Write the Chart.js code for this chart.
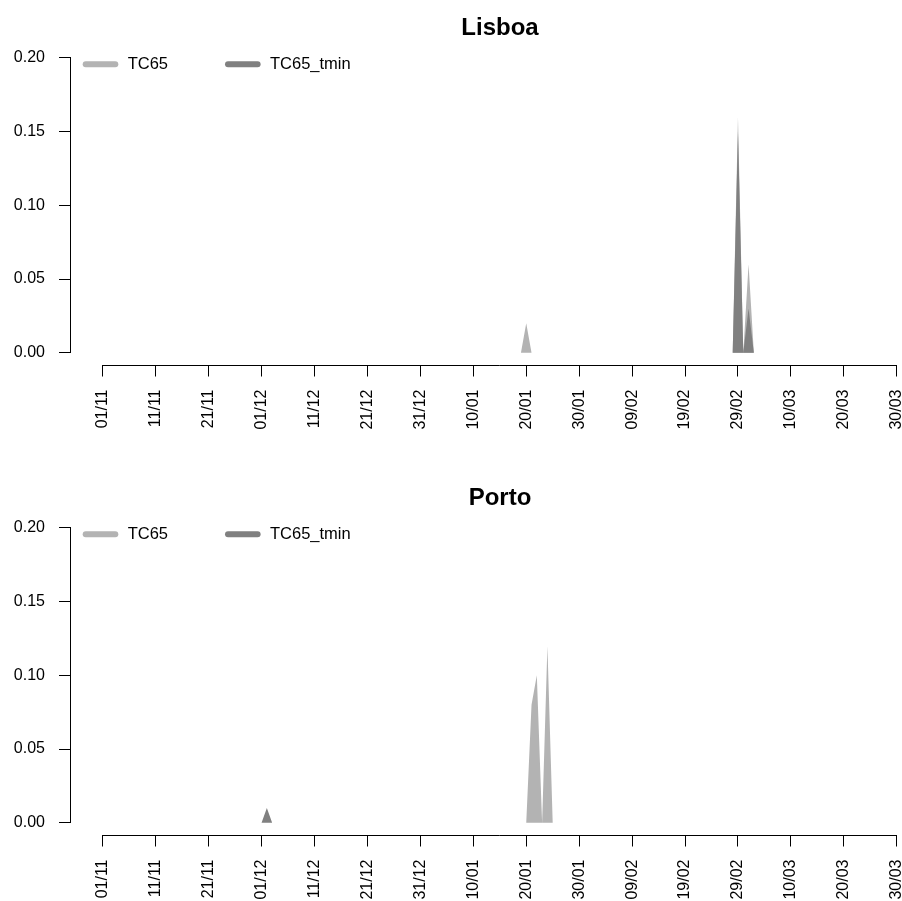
<!DOCTYPE html>
<html>
<head>
<meta charset="utf-8">
<script src="https://cdn.jsdelivr.net/npm/chart.js@4.4.0/dist/chart.umd.min.js"></script>
<style>
  html, body { margin: 0; padding: 0; background: #fff; overflow: hidden; }
  .panel { position: absolute; left: 0; }
  #lisboaBox { top: 0; }
  #portoBox { top: 470px; }
</style>
</head>
<body>
<div class="panel" id="lisboaBox"><canvas id="lisboaChart" width="1000" height="470"></canvas></div>
<div class="panel" id="portoBox"><canvas id="portoChart" width="1000" height="470"></canvas></div>
<script>
// Daily series, 01/11 (day 0) to 30/03 (day 150), ten days per row
const lisboaTC65 = [
  0, 0, 0, 0, 0, 0, 0, 0, 0, 0,
  0, 0, 0, 0, 0, 0, 0, 0, 0, 0,
  0, 0, 0, 0, 0, 0, 0, 0, 0, 0,
  0, 0, 0, 0, 0, 0, 0, 0, 0, 0,
  0, 0, 0, 0, 0, 0, 0, 0, 0, 0,
  0, 0, 0, 0, 0, 0, 0, 0, 0, 0,
  0, 0, 0, 0, 0, 0, 0, 0, 0, 0,
  0, 0, 0, 0, 0, 0, 0, 0, 0, 0,
  0.02, 0, 0, 0, 0, 0, 0, 0, 0, 0,
  0, 0, 0, 0, 0, 0, 0, 0, 0, 0,
  0, 0, 0, 0, 0, 0, 0, 0, 0, 0,
  0, 0, 0, 0, 0, 0, 0, 0, 0, 0,
  0.16, 0, 0.06, 0, 0, 0, 0, 0, 0, 0,
  0, 0, 0, 0, 0, 0, 0, 0, 0, 0,
  0, 0, 0, 0, 0, 0, 0, 0, 0, 0,
  0
];
const lisboaTmin = [
  0, 0, 0, 0, 0, 0, 0, 0, 0, 0,
  0, 0, 0, 0, 0, 0, 0, 0, 0, 0,
  0, 0, 0, 0, 0, 0, 0, 0, 0, 0,
  0, 0, 0, 0, 0, 0, 0, 0, 0, 0,
  0, 0, 0, 0, 0, 0, 0, 0, 0, 0,
  0, 0, 0, 0, 0, 0, 0, 0, 0, 0,
  0, 0, 0, 0, 0, 0, 0, 0, 0, 0,
  0, 0, 0, 0, 0, 0, 0, 0, 0, 0,
  0, 0, 0, 0, 0, 0, 0, 0, 0, 0,
  0, 0, 0, 0, 0, 0, 0, 0, 0, 0,
  0, 0, 0, 0, 0, 0, 0, 0, 0, 0,
  0, 0, 0, 0, 0, 0, 0, 0, 0, 0,
  0.15, 0, 0.03, 0, 0, 0, 0, 0, 0, 0,
  0, 0, 0, 0, 0, 0, 0, 0, 0, 0,
  0, 0, 0, 0, 0, 0, 0, 0, 0, 0,
  0
];
const portoTC65 = [
  0, 0, 0, 0, 0, 0, 0, 0, 0, 0,
  0, 0, 0, 0, 0, 0, 0, 0, 0, 0,
  0, 0, 0, 0, 0, 0, 0, 0, 0, 0,
  0, 0, 0, 0, 0, 0, 0, 0, 0, 0,
  0, 0, 0, 0, 0, 0, 0, 0, 0, 0,
  0, 0, 0, 0, 0, 0, 0, 0, 0, 0,
  0, 0, 0, 0, 0, 0, 0, 0, 0, 0,
  0, 0, 0, 0, 0, 0, 0, 0, 0, 0,
  0, 0.08, 0.10, 0, 0.12, 0, 0, 0, 0, 0,
  0, 0, 0, 0, 0, 0, 0, 0, 0, 0,
  0, 0, 0, 0, 0, 0, 0, 0, 0, 0,
  0, 0, 0, 0, 0, 0, 0, 0, 0, 0,
  0, 0, 0, 0, 0, 0, 0, 0, 0, 0,
  0, 0, 0, 0, 0, 0, 0, 0, 0, 0,
  0, 0, 0, 0, 0, 0, 0, 0, 0, 0,
  0
];
const portoTmin = [
  0, 0, 0, 0, 0, 0, 0, 0, 0, 0,
  0, 0, 0, 0, 0, 0, 0, 0, 0, 0,
  0, 0, 0, 0, 0, 0, 0, 0, 0, 0,
  0, 0.01, 0, 0, 0, 0, 0, 0, 0, 0,
  0, 0, 0, 0, 0, 0, 0, 0, 0, 0,
  0, 0, 0, 0, 0, 0, 0, 0, 0, 0,
  0, 0, 0, 0, 0, 0, 0, 0, 0, 0,
  0, 0, 0, 0, 0, 0, 0, 0, 0, 0,
  0, 0, 0, 0, 0, 0, 0, 0, 0, 0,
  0, 0, 0, 0, 0, 0, 0, 0, 0, 0,
  0, 0, 0, 0, 0, 0, 0, 0, 0, 0,
  0, 0, 0, 0, 0, 0, 0, 0, 0, 0,
  0, 0, 0, 0, 0, 0, 0, 0, 0, 0,
  0, 0, 0, 0, 0, 0, 0, 0, 0, 0,
  0, 0, 0, 0, 0, 0, 0, 0, 0, 0,
  0
];

const tickDays = [0, 10, 20, 30, 40, 50, 60, 70, 80, 90, 100, 110, 120, 130, 140, 150];
const tickLabels = ['01/11', '11/11', '21/11', '01/12', '11/12', '21/12', '31/12', '10/01',
                    '20/01', '30/01', '09/02', '19/02', '29/02', '10/03', '20/03', '30/03'];
const yTicks = [0, 0.05, 0.10, 0.15, 0.20];
const seriesNames = ['TC65', 'TC65_tmin'];

const lightGrey = '#b3b3b3';
const darkGrey = '#808080';
const FONT = '"Liberation Sans", Arial, Helvetica, sans-serif';

// R style axis lines: only from first to last tick
const axisLines = {
  id: 'axisLines',
  afterDraw(chart) {
    const { ctx, chartArea, scales } = chart;
    const x = scales.x, y = scales.y;
    ctx.save();
    ctx.strokeStyle = '#000';
    ctx.lineWidth = 1;
    ctx.beginPath();
    const by = Math.round(chartArea.bottom) + 0.5;
    ctx.moveTo(x.getPixelForValue(tickDays[0]), by);
    ctx.lineTo(x.getPixelForValue(tickDays[tickDays.length - 1]), by);
    const lx = Math.round(chartArea.left) - 0.5;
    ctx.moveTo(lx, y.getPixelForValue(yTicks[0]));
    ctx.lineTo(lx, y.getPixelForValue(yTicks[yTicks.length - 1]));
    ctx.stroke();
    ctx.restore();
  }
};

// horizontal legend in the top left corner, thick line keys
const lineLegend = {
  id: 'lineLegend',
  afterDraw(chart, args, opts) {
    const ctx = chart.ctx;
    ctx.save();
    chart.data.datasets.forEach((ds, i) => {
      const x0 = opts.x[i];
      ctx.strokeStyle = ds.backgroundColor;
      ctx.lineWidth = 6;
      ctx.lineCap = 'round';
      ctx.beginPath();
      ctx.moveTo(x0 + 3, opts.y);
      ctx.lineTo(x0 + opts.lineLength - 3, opts.y);
      ctx.stroke();
      ctx.fillStyle = '#000';
      ctx.font = '16.5px ' + FONT;
      ctx.textBaseline = 'middle';
      ctx.fillText(ds.label, x0 + opts.textOffset, opts.y);
    });
    ctx.restore();
  }
};

function makeChart(canvasId, title, tc65, tmin) {
  const ctx = document.getElementById(canvasId).getContext('2d');
  return new Chart(ctx, {
    type: 'line',
    data: {
      datasets: [
        {
          label: seriesNames[0],
          data: tc65.map((v, i) => ({ x: i, y: v })),
          backgroundColor: lightGrey,
          borderWidth: 0,
          fill: 'origin',
          pointRadius: 0,
          tension: 0,
          order: 2
        },
        {
          label: seriesNames[1],
          data: tmin.map((v, i) => ({ x: i, y: v })),
          backgroundColor: darkGrey,
          borderWidth: 0,
          fill: 'origin',
          pointRadius: 0,
          tension: 0,
          order: 1
        }
      ]
    },
    options: {
      responsive: false,
      animation: false,
      events: [],
      layout: { padding: 0 },
      plugins: {
        legend: { display: false },
        tooltip: { enabled: false },
        title: {
          display: true,
          text: title,
          color: '#000',
          font: { family: FONT, size: 24, weight: 'bold' },
          padding: { top: 14, bottom: 3.4 }
        },
        lineLegend: { x: [82.7, 225], y: 64.3, lineLength: 35.6, textOffset: 45 }
      },
      scales: {
        x: {
          type: 'linear',
          min: -6,
          max: 169.5,
          afterBuildTicks: (s) => { s.ticks = tickDays.map(v => ({ value: v })); },
          afterFit: (s) => { s.height = 105.5; },
          border: { display: false },
          grid: { drawOnChartArea: false, drawTicks: true, tickLength: 12, color: '#000' },
          ticks: {
            autoSkip: false,
            minRotation: 90,
            maxRotation: 90,
            padding: 13,
            color: '#000',
            font: { family: FONT, size: 16 },
            callback: (v) => tickLabels[tickDays.indexOf(v)]
          }
        },
        y: {
          type: 'linear',
          min: -0.008,
          max: 0.208,
          afterBuildTicks: (s) => { s.ticks = yTicks.map(v => ({ value: v })); },
          afterFit: (s) => { s.width = 71; },
          border: { display: false },
          grid: { drawOnChartArea: false, drawTicks: true, tickLength: 12, color: '#000' },
          ticks: {
            padding: 14,
            color: '#000',
            font: { family: FONT, size: 16 },
            callback: (v) => v.toFixed(2)
          }
        }
      }
    },
    plugins: [axisLines, lineLegend]
  });
}

makeChart('lisboaChart', 'Lisboa', lisboaTC65, lisboaTmin);
makeChart('portoChart', 'Porto', portoTC65, portoTmin);
</script>
</body>
</html>
